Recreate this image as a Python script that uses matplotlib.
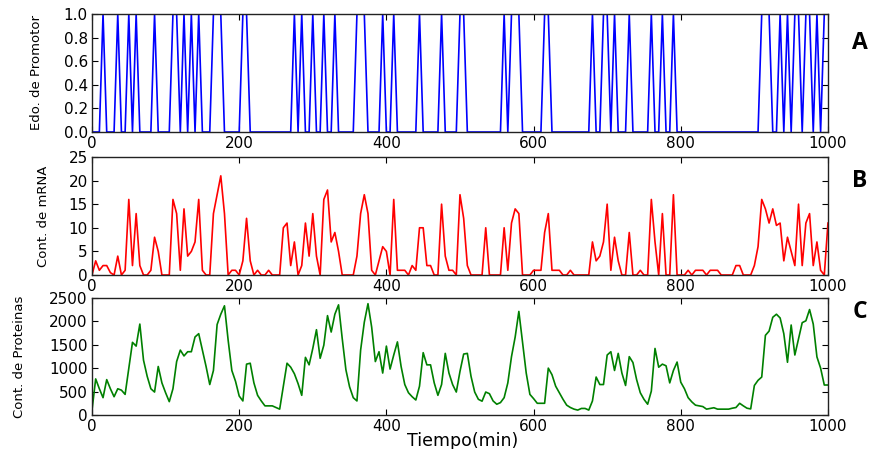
import numpy as np
import matplotlib
matplotlib.use("Agg")
import matplotlib.pyplot as plt

# time axis, one sample every 5 min
t = np.arange(0, 1001, 5)

# promoter state (0 = off, 1 = on)
promotor = [
    0, 0, 0, 1, 0, 0, 0, 1, 0, 0, 1, 0, 1, 0, 0, 0, 0, 1, 0, 0,
    0, 0, 1, 1, 0, 1, 0, 1, 0, 1, 0, 0, 0, 1, 1, 1, 0, 0, 0, 0,
    0, 1, 1, 0, 0, 0, 0, 0, 0, 0, 0, 0, 0, 0, 0, 1, 0, 1, 0, 0,
    1, 0, 0, 1, 0, 0, 1, 0, 0, 0, 0, 0, 1, 1, 1, 0, 0, 0, 0, 1,
    0, 0, 1, 0, 0, 0, 0, 0, 0, 1, 0, 0, 0, 0, 0, 1, 0, 0, 0, 0,
    1, 1, 0, 0, 0, 0, 0, 0, 0, 0, 0, 0, 1, 0, 1, 1, 1, 0, 0, 0,
    0, 0, 0, 1, 1, 0, 0, 0, 0, 0, 0, 0, 0, 0, 0, 0, 1, 0, 0, 1,
    1, 0, 1, 0, 0, 0, 1, 0, 0, 0, 0, 0, 1, 0, 0, 1, 0, 0, 1, 0,
    0, 0, 0, 0, 0, 0, 0, 0, 0, 0, 0, 0, 0, 0, 0, 0, 0, 0, 0, 0,
    0, 0, 1, 1, 1, 0, 0, 1, 0, 1, 0, 1, 1, 0, 1, 1, 0, 1, 0, 1,
    1]

# mRNA count
mrna = [
    0, 3, 1, 2, 2, 0.5, 0, 4, 0, 1, 16, 2, 13, 2, 0, 0, 1, 8, 5, 0,
    0, 0, 16, 13, 1, 14, 4, 5, 7, 16, 1, 0, 0, 13, 17, 21, 13, 0, 1, 1,
    0, 3, 12, 3, 0, 1, 0, 0, 1, 0, 0, 0, 10, 11, 2, 7, 0, 2, 11, 4,
    13, 4, 0, 16, 18, 7, 9, 5, 0, 0, 0, 0, 4, 13, 17, 13, 1, 0, 3, 6,
    5, 0, 16, 1, 1, 1, 0, 2, 1, 10, 10, 2, 2, 0, 0, 15, 4, 1, 1, 0,
    17, 12, 2, 0, 0, 0, 0, 10, 0, 0, 0, 0, 10, 1, 11, 14, 13, 0, 0, 0,
    1, 1, 1, 9, 13, 1, 1, 1, 0, 0, 1, 0, 0, 0, 0, 0, 7, 3, 4, 7,
    15, 1, 8, 3, 0, 0, 9, 0, 0, 1, 0, 0, 16, 7, 0, 13, 0, 0, 17, 0,
    0, 0, 1, 0, 1, 1, 1, 0, 1, 1, 1, 0, 0, 0, 0, 2, 2, 0, 0, 0,
    2, 6, 16, 14, 11, 14, 10.5, 11, 3, 8, 5, 2, 15, 2, 11, 13, 2, 7, 1, 0,
    11]

# protein count
proteinas = [
    100, 770, 560, 370, 755, 560, 390, 560, 530, 440, 1000, 1550, 1470, 1940, 1170, 825, 560, 490, 1035, 685,
    475, 285, 560, 1140, 1385, 1260, 1350, 1350, 1665, 1735, 1385, 1035, 650, 950, 1930, 2150, 2330, 1595, 950, 720,
    405, 300, 1085, 1105, 685, 420, 300, 195, 195, 195, 160, 125, 615, 1105, 1020, 880, 670, 420, 1230, 1070,
    1420, 1820, 1210, 1490, 2120, 1770, 2150, 2350, 1630, 965, 600, 370, 300, 1385, 1980, 2375, 1875, 1140, 1350, 895,
    1470, 980, 1280, 1560, 1035, 650, 475, 390, 320, 615, 1330, 1070, 1070, 685, 420, 650, 1315, 895, 650, 490,
    930, 1300, 1315, 825, 490, 335, 295, 490, 455, 300, 230, 265, 370, 685, 1245, 1665, 2210, 1560, 895, 440,
    350, 250, 250, 250, 1000, 860, 615, 475, 335, 210, 160, 125, 105, 140, 140, 105, 300, 810, 650, 650,
    1280, 1350, 950, 1315, 895, 630, 1245, 1120, 755, 475, 335, 230, 510, 1420, 1020, 1085, 1050, 685, 950, 1130,
    700, 560, 370, 280, 210, 195, 180, 125, 140, 155, 125, 125, 125, 125, 145, 160, 250, 195, 145, 130,
    630, 740, 810, 1700, 1790, 2085, 2150, 2070, 1735, 1125, 1920, 1280, 1625, 1970, 2010, 2250, 1940, 1240, 1000, 640,
    640]

ylabels = ["Edo. de Promotor", "Cont. de mRNA", "Cont. de Proteinas"]
label_x = [-0.066, -0.057, -0.089]   # right edge of each y label, axes fraction
letras = ["A", "B", "C"]
letra_y = [0.904, 0.596, 0.306]

plt.rcParams['xtick.direction'] = 'in'
plt.rcParams['ytick.direction'] = 'in'
plt.rcParams['xtick.top'] = True
plt.rcParams['ytick.right'] = True
plt.rcParams['xtick.major.size'] = 4
plt.rcParams['ytick.major.size'] = 4
plt.rcParams['xtick.labelsize'] = 11
plt.rcParams['ytick.labelsize'] = 11
plt.rcParams['axes.linewidth'] = 1.0

fig = plt.figure(figsize=(8.72, 4.49), dpi=100)

# axes rectangles (left, bottom, width, height)
ax1 = fig.add_axes([0.1055, 0.706, 0.844, 0.263])
ax2 = fig.add_axes([0.1055, 0.3875, 0.844, 0.263])
ax3 = fig.add_axes([0.1055, 0.0757, 0.844, 0.261])

ax1.plot(t, promotor, color='b', lw=1.2)
ax1.set_ylim(0, 1)
ax1.set_yticks(np.arange(0, 1.01, 0.2))

ax2.plot(t, mrna, color='r', lw=1.2)
ax2.set_ylim(0, 25)
ax2.set_yticks(range(0, 26, 5))

ax3.plot(t, proteinas, color='g', lw=1.2)
ax3.set_ylim(0, 2500)
ax3.set_yticks(range(0, 2501, 500))

for ax, lab, lx in zip([ax1, ax2, ax3], ylabels, label_x):
    ax.set_xlim(0, 1000)
    ax.set_xticks(range(0, 1001, 200))
    ax.tick_params(pad=3)
    ax.set_ylabel(lab, fontsize=9.5)
    ax.yaxis.set_label_coords(lx, 0.5)
    for s in ax.spines.values():
        s.set_color('#222222')

fig.text(463 / 872, 1 - 441 / 449, "Tiempo(min)", fontsize=12.5,
         ha='center', va='center')

for l, y in zip(letras, letra_y):
    fig.text(0.986, y, l, fontsize=16.5, fontweight='bold',
             family=['Open Sans', 'DejaVu Sans'], ha='center', va='center')

fig.savefig("out.png", dpi=100, facecolor='white')
